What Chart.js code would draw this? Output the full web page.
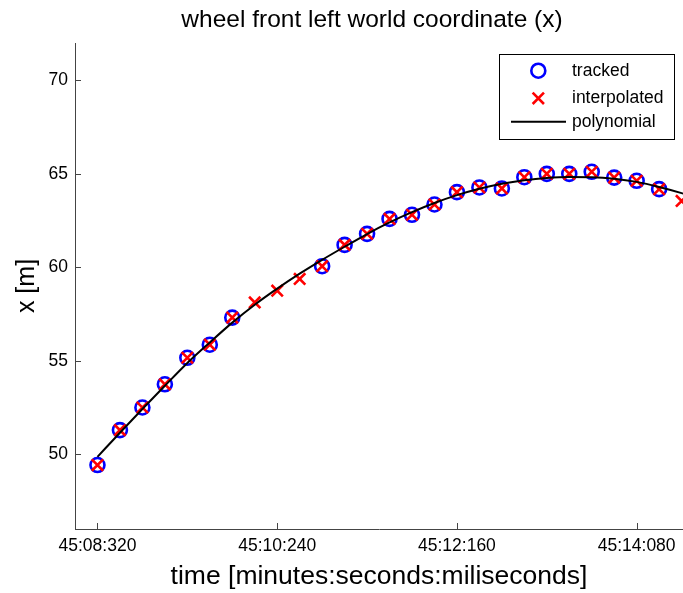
<!DOCTYPE html>
<html>
<head>
<meta charset="utf-8">
<script src="https://cdn.jsdelivr.net/npm/chart.js@4/dist/chart.umd.min.js"></script>
<style>
html,body{margin:0;padding:0;background:#fff;}
#c{display:block;}
</style>
</head>
<body>
<canvas id="c" width="683" height="593"></canvas>
<script>
// ---- data (times in ms since 00:00:000) ----
const times = [2708320, 2708560, 2708800, 2709040, 2709280, 2709520, 2709760, 2710000, 2710240,
  2710480, 2710720, 2710960, 2711200, 2711440, 2711680, 2711920, 2712160, 2712400, 2712640,
  2712880, 2713120, 2713360, 2713600, 2713840, 2714080, 2714320, 2714560];
const trackedValues = [49.42, 51.29, 52.50, 53.74, 55.16, 55.86, 57.31, null, null, null,
  60.06, 61.20, 61.79, 62.59, 62.81, 63.36, 64.02, 64.27, 64.22, 64.82, 65.00, 65.00,
  65.11, 64.80, 64.63, 64.18, null];
const interpolatedValues = [49.42, 51.29, 52.50, 53.74, 55.16, 55.86, 57.31, 58.12, 58.75, 59.38,
  60.06, 61.20, 61.79, 62.59, 62.81, 63.36, 64.02, 64.27, 64.22, 64.82, 65.00, 65.00,
  65.11, 64.80, 64.63, 64.18, 63.55];
const polyTimes = [2708320, 2708560, 2708800, 2709040, 2709280, 2709520, 2709760, 2710000, 2710240,
  2710480, 2710720, 2710960, 2711200, 2711440, 2711680, 2711920, 2712160, 2712400, 2712640,
  2712880, 2713120, 2713360, 2713600, 2713840, 2714080, 2714320, 2714560, 2714800];
const polyValues = [49.86, 51.15, 52.42, 53.66, 54.88, 55.98, 57.04, 58.00, 58.86, 59.66,
  60.40, 61.10, 61.78, 62.40, 62.95, 63.44, 63.86, 64.20, 64.47, 64.66, 64.78, 64.83,
  64.82, 64.74, 64.57, 64.30, 63.97, 63.58];
const xTickValues = [2708320, 2710240, 2712160, 2714080];
const xTickLabels = ['45:08:320', '45:10:240', '45:12:160', '45:14:080'];
const yTickValues = [50, 55, 60, 65, 70];
const seriesNames = ['tracked', 'interpolated', 'polynomial'];
const titleText = 'wheel front left world coordinate (x)';
const xTitle = 'time [minutes:seconds:miliseconds]';
const yTitle = 'x [m]';

const FONT = '"Liberation Sans", Arial, Helvetica, sans-serif';
Chart.defaults.font.family = FONT;
Chart.defaults.color = '#000';

const toXY = (xs, ys) => xs.map((x, i) => ({x: x, y: ys[i]}));

const titlePlugin = {
  id: 'matTitle',
  afterDraw(chart) {
    const ctx = chart.ctx;
    ctx.save();
    ctx.font = '24.5px ' + FONT;
    ctx.fillStyle = '#000';
    ctx.textAlign = 'center';
    ctx.textBaseline = 'middle';
    ctx.fillText(titleText, 372, 20);
    ctx.restore();
  }
};

const inwardTicks = {
  id: 'inwardTicks',
  afterDraw(chart) {
    const ctx = chart.ctx;
    const xs = chart.scales.x, ys = chart.scales.y;
    const area = chart.chartArea;
    ctx.save();
    ctx.strokeStyle = '#444';
    ctx.lineWidth = 1;
    ctx.beginPath();
    xs.ticks.forEach(t => {
      const px = Math.round(xs.getPixelForValue(t.value)) + 0.5;
      ctx.moveTo(px, area.bottom);
      ctx.lineTo(px, area.bottom - 6);
    });
    ys.ticks.forEach(t => {
      const py = Math.round(ys.getPixelForValue(t.value)) + 0.5;
      ctx.moveTo(area.left, py);
      ctx.lineTo(area.left + 6, py);
    });
    ctx.stroke();
    ctx.restore();
  }
};

const legendBox = {
  id: 'legendBox',
  afterDraw(chart) {
    const ctx = chart.ctx;
    const bx = 499.5, by = 54.5, bw = 175, bh = 85;
    ctx.save();
    ctx.fillStyle = '#fff';
    ctx.fillRect(bx, by, bw, bh);
    ctx.strokeStyle = '#000';
    ctx.lineWidth = 1;
    ctx.strokeRect(bx, by, bw, bh);
    const rows = [70.7, 98.3, 121.7];
    const mx = 538.3;
    const ds = chart.data.datasets;
    ctx.strokeStyle = ds[0].borderColor;
    ctx.lineWidth = ds[0].borderWidth;
    ctx.beginPath();
    ctx.arc(mx, rows[0], ds[0].pointRadius, 0, Math.PI * 2);
    ctx.stroke();
    ctx.strokeStyle = ds[1].borderColor;
    ctx.lineWidth = ds[1].borderWidth;
    const h = ds[1].pointRadius * Math.SQRT1_2;
    ctx.beginPath();
    ctx.moveTo(mx - h, rows[1] - h); ctx.lineTo(mx + h, rows[1] + h);
    ctx.moveTo(mx + h, rows[1] - h); ctx.lineTo(mx - h, rows[1] + h);
    ctx.stroke();
    ctx.strokeStyle = ds[2].borderColor;
    ctx.lineWidth = ds[2].borderWidth;
    ctx.beginPath();
    ctx.moveTo(511, rows[2]); ctx.lineTo(566, rows[2]);
    ctx.stroke();
    ctx.fillStyle = '#000';
    ctx.font = '17.5px ' + FONT;
    ctx.textAlign = 'left';
    ctx.textBaseline = 'middle';
    seriesNames.forEach((n, i) => ctx.fillText(n, 572, rows[i]));
    ctx.restore();
  }
};

new Chart(document.getElementById('c'), {
  type: 'scatter',
  data: {
    datasets: [
      {
        label: seriesNames[0],
        data: toXY(times, trackedValues),
        showLine: false,
        pointStyle: 'circle',
        pointRadius: 7,
        pointHoverRadius: 7,
        borderColor: '#0000ff',
        backgroundColor: 'rgba(0,0,0,0)',
        borderWidth: 2.6,
        order: 3
      },
      {
        label: seriesNames[1],
        data: toXY(times, interpolatedValues),
        showLine: false,
        pointStyle: 'crossRot',
        pointRadius: 8,
        pointHoverRadius: 8,
        borderColor: '#ff0000',
        backgroundColor: '#ff0000',
        borderWidth: 2.6,
        order: 2
      },
      {
        label: seriesNames[2],
        data: toXY(polyTimes, polyValues),
        showLine: true,
        pointRadius: 0,
        pointHoverRadius: 0,
        borderColor: '#000000',
        backgroundColor: '#000000',
        borderWidth: 2,
        cubicInterpolationMode: 'monotone',
        order: 1
      }
    ]
  },
  options: {
    responsive: false,
    devicePixelRatio: 1,
    animation: false,
    layout: {autoPadding: false, padding: {top: 43, left: 0, right: 0, bottom: 0}},
    plugins: {
      legend: {display: false},
      title: {display: false},
      tooltip: {enabled: false}
    },
    scales: {
      x: {
        type: 'linear',
        min: 2708080,
        max: 2714575,
        grid: {display: false, drawTicks: false},
        border: {display: true, color: '#444', width: 1},
        afterBuildTicks: (s) => { s.ticks = xTickValues.map(v => ({value: v})); },
        afterFit: (s) => { s.height = 64; s.paddingLeft = 0; s.paddingRight = 0; },
        ticks: {
          autoSkip: false,
          maxRotation: 0,
          padding: 7,
          font: {size: 17.5},
          color: '#000',
          callback: (v) => { const i = xTickValues.indexOf(v); return i >= 0 ? xTickLabels[i] : ''; }
        },
        title: {display: true, text: xTitle, font: {size: 26.5}, color: '#000', padding: {top: 1, bottom: 0}}
      },
      y: {
        type: 'linear',
        min: 46,
        max: 72,
        grid: {display: false, drawTicks: false},
        border: {display: true, color: '#444', width: 1},
        afterBuildTicks: (s) => { s.ticks = yTickValues.map(v => ({value: v})); },
        afterFit: (s) => { s.width = 75; s.paddingTop = 0; s.paddingBottom = 0; },
        ticks: {
          padding: 7,
          font: {size: 17.5},
          color: '#000'
        },
        title: {display: true, text: yTitle, font: {size: 25}, color: '#000', padding: {top: 11.7, bottom: 0}}
      }
    }
  },
  plugins: [inwardTicks, titlePlugin, legendBox]
});
</script>
</body>
</html>
